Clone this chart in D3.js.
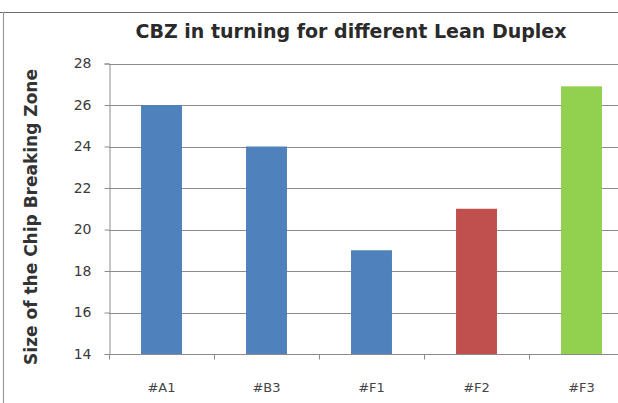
<!DOCTYPE html>
<html><head><meta charset="utf-8">
<script src="https://cdn.jsdelivr.net/npm/d3@7"></script>
<style>html,body{margin:0;padding:0;background:#fff}svg{display:block}</style>
</head><body><svg id="c" width="618" height="403"></svg>
<script>
const categories = ["#A1", "#B3", "#F1", "#F2", "#F3"];
const values = [26, 24, 19, 21, 26.9];
const barColors = ["#4f81bd", "#4f81bd", "#4f81bd", "#c0504d", "#92d050"];
const yTicks = [14, 16, 18, 20, 22, 24, 26, 28];
const titleText = "CBZ in turning for different Lean Duplex";
const yTitleText = "Size of the Chip Breaking Zone";

const svg = d3.select("#c");
const font = "'DejaVu Sans', 'Liberation Sans', Arial, sans-serif";

// frame
svg.append("line").attr("x1", 0).attr("x2", 618).attr("y1", 12.5).attr("y2", 12.5).attr("stroke", "#6b6b6b").attr("stroke-width", 1.2);
svg.append("line").attr("x1", 3.5).attr("x2", 3.5).attr("y1", 12).attr("y2", 403).attr("stroke", "#9a9a9a").attr("stroke-width", 1.2);

const plotLeft = 109, plotTop = 63.5, plotBottom = 354;
const x = d3.scaleBand().domain(categories).range([plotLeft, plotLeft + 5 * 105]).paddingInner(0.61).paddingOuter(0.305);
const y = d3.scaleLinear().domain([14, 28]).range([plotBottom, plotTop]);

// gridlines
svg.append("g").selectAll("line").data(yTicks.filter(d => d > 14)).join("line")
  .attr("x1", plotLeft).attr("x2", 618)
  .attr("y1", d => Math.round(y(d)) + 0.5).attr("y2", d => Math.round(y(d)) + 0.5)
  .attr("stroke", "#8c8c8c").attr("stroke-width", 1);

// bars
svg.append("g").selectAll("rect").data(values).join("rect")
  .attr("x", (d, i) => x(categories[i]))
  .attr("width", x.bandwidth())
  .attr("y", d => y(d))
  .attr("height", d => y(14) - y(d))
  .attr("fill", (d, i) => barColors[i]);

// y axis
const yAxis = d3.axisLeft(y).tickValues(yTicks).tickSize(5).tickPadding(13).tickFormat(d3.format("d"));
const gy = svg.append("g").attr("transform", `translate(${plotLeft + 0.5},0)`).call(yAxis);
gy.select(".domain").attr("stroke", "#8c8c8c");
gy.selectAll(".tick line").attr("stroke", "#8c8c8c");
gy.selectAll("text").attr("font-family", font).attr("font-size", 14).attr("fill", "#3a3a3a");

// x axis with ticks at category boundaries
const gx = svg.append("g").attr("transform", `translate(0,${Math.round(plotBottom) + 0.5})`);
gx.append("line").attr("x1", plotLeft).attr("x2", 618).attr("stroke", "#8c8c8c");
const bounds = d3.range(0, categories.length + 1).map(i => plotLeft + i * x.step());
gx.selectAll("line.t").data(bounds).join("line").attr("class", "t")
  .attr("x1", d => Math.round(d) + 0.5).attr("x2", d => Math.round(d) + 0.5)
  .attr("y1", 0).attr("y2", 5).attr("stroke", "#8c8c8c");
gx.selectAll("text").data(categories).join("text")
  .attr("x", d => x(d) + x.bandwidth() / 2).attr("y", 37)
  .attr("text-anchor", "middle").attr("font-family", font).attr("font-size", 13).attr("fill", "#444")
  .text(d => d);

// title
svg.append("text").attr("x", 351).attr("y", 38).attr("text-anchor", "middle")
  .attr("font-family", font).attr("font-weight", "bold").attr("font-size", 19).attr("fill", "#2a2a2a")
  .text(titleText);

// y title
svg.append("text").attr("transform", "translate(37,217) rotate(-90)").attr("text-anchor", "middle")
  .attr("font-family", font).attr("font-weight", "bold").attr("font-size", 17).attr("fill", "#333")
  .text(yTitleText);
</script></body></html>
